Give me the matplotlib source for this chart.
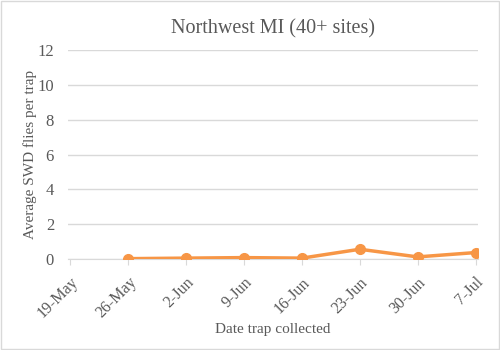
import matplotlib.pyplot as plt
import numpy as np
import datetime as dt

datas = ['2020-05-26', '2020-06-02', '2020-06-09', '2020-06-16', '2020-06-23', '2020-06-30', '2020-07-07']
media = [0.02, 0.05, 0.08, 0.05, 0.56, 0.12, 0.37]
rotulos = ['19-May', '26-May', '2-Jun', '9-Jun', '16-Jun', '23-Jun', '30-Jun', '7-Jul']

cinza = '#595959'
laranja = '#F79646'
plt.rcParams['font.family'] = ['Liberation Serif', 'DejaVu Serif']

x = [dt.datetime.strptime(d, '%Y-%m-%d') for d in datas]
ticks = [dt.datetime(2020, 5, 19) + dt.timedelta(days=7 * i) for i in range(len(rotulos))]

fig = plt.figure(figsize=(5, 3.5), dpi=100)
ax = fig.add_axes([0.136, 0.26, 0.82, 0.597])
ax.plot(x, media, color=laranja, lw=2.5, marker='o', ms=7, zorder=3)

ax.set_xlim(ticks[0] - dt.timedelta(days=0.3), ticks[-1] + dt.timedelta(days=0.3))
ax.set_ylim(0, 12)
ax.set_yticks(np.arange(0, 13, 2))
ax.set_xticks(ticks)
ax.set_xticklabels(rotulos, rotation=45, ha='right', rotation_mode='anchor')
ax.tick_params(axis='y', colors=cinza, labelsize=12, length=0, pad=10)
ax.tick_params(axis='x', labelcolor=cinza, color='#D9D9D9', labelsize=11.5, length=4, pad=7)
ax.grid(axis='y', color='#D9D9D9', lw=1)
ax.set_axisbelow(True)
for s in ['top', 'right', 'left']:
    ax.spines[s].set_visible(False)
ax.spines['bottom'].set_color('#D9D9D9')

ax.set_title('Northwest MI (40+ sites)', color=cinza, fontsize=14.5, pad=12)
ax.set_xlabel('Date trap collected', color=cinza, fontsize=11, labelpad=1)
ax.set_ylabel('Average SWD flies per trap', color=cinza, fontsize=11, labelpad=0)

fig.patches.append(plt.Rectangle((0.002, 0.002), 0.996, 0.995, transform=fig.transFigure,
                                 fill=False, edgecolor='#D9D9D9', lw=1))
fig.savefig('out.png', dpi=100)
